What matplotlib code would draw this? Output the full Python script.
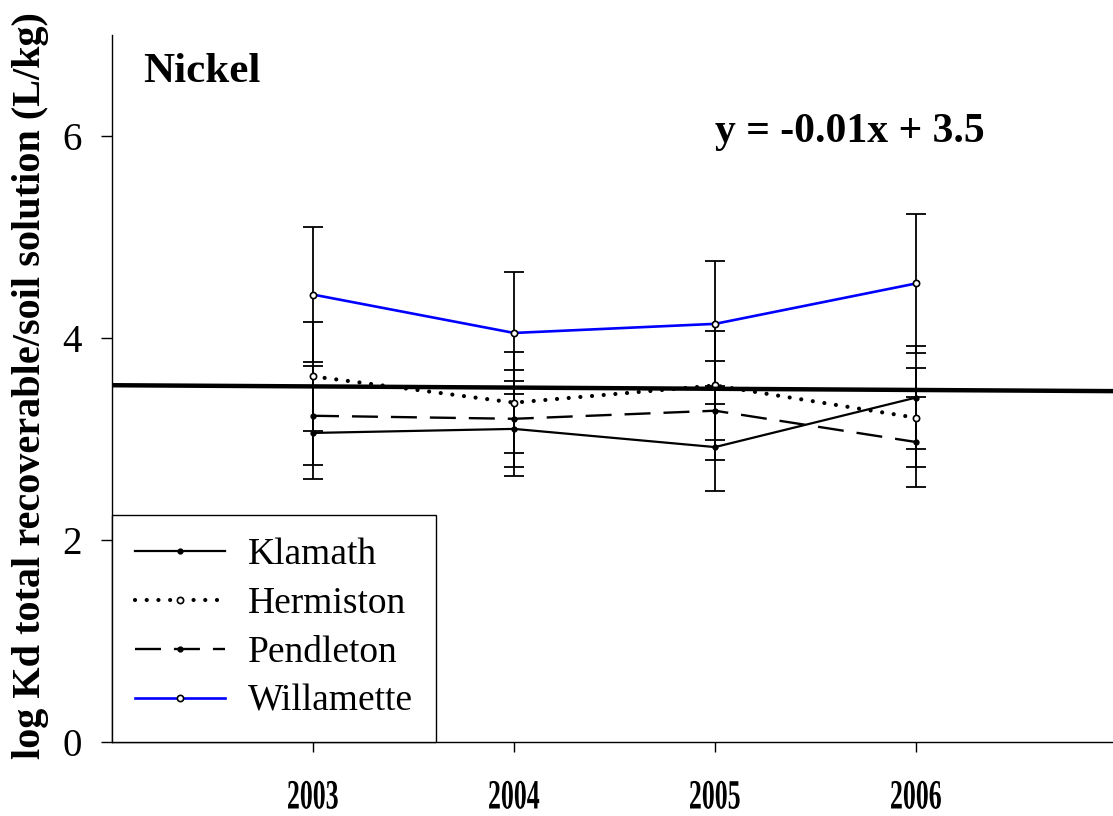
import numpy as np
import matplotlib
matplotlib.use("Agg")
import matplotlib.pyplot as plt
from matplotlib.patheffects import AbstractPathEffect
from matplotlib.transforms import Affine2D

# ---- data -------------------------------------------------------------
years = [2003, 2004, 2005, 2006]
sites = ["Klamath", "Hermiston", "Pendleton", "Willamette"]

klamath = [3.06, 3.10, 2.92, 3.41]
klamath_err = [0.46, 0.47, 0.43, 0.51]
hermiston = [3.62, 3.36, 3.53, 3.21]
hermiston_err = [0.54, 0.50, 0.54, 0.49]
pendleton = [3.23, 3.20, 3.28, 2.97]
pendleton_err = [0.49, 0.48, 0.49, 0.45]
willamette = [4.43, 4.05, 4.14, 4.54]
willamette_err = [0.67, 0.60, 0.62, 0.69]

yticks = [0, 2, 4, 6]
metal = "Nickel"
ylabel = "log Kd total recoverable/soil solution (L/kg)"
base_year = 2002


class Condensed(AbstractPathEffect):
    """Draw text glyphs squeezed horizontally about their centre."""

    def __init__(self, factor):
        super().__init__()
        self.factor = factor

    def draw_path(self, renderer, gc, tpath, affine, rgbFace=None):
        v = tpath.vertices
        cx = 0.5 * (v[:, 0].min() + v[:, 0].max()) if len(v) else 0.0
        squeeze = Affine2D().translate(-cx, 0).scale(self.factor, 1).translate(cx, 0)
        renderer.draw_path(gc, tpath, squeeze + affine, rgbFace)


plt.rcParams["font.family"] = ["Liberation Serif", "DejaVu Serif"]

W, H = 1113, 816
fig = plt.figure(figsize=(W / 100, H / 100), dpi=100)
ax = fig.add_axes([112 / W, 74 / H, 1001 / W, 707 / H])

series = [klamath, hermiston, pendleton, willamette]
errors = [klamath_err, hermiston_err, pendleton_err, willamette_err]
styles = [
    dict(color="black", ls="-", lw=1.6, marker="o", ms=3.5, mfc="black", mec="black"),
    dict(color="black", ls=(0, (0.01, 2.8)), lw=3.0, dash_capstyle="round",
         marker="o", ms=4.5, mfc="white", mec="black", mew=1.2),
    dict(color="black", ls=(0, (11, 5.5)), lw=1.7, marker="o", ms=3.5,
         mfc="black", mec="black"),
    dict(color="#0000ff", ls="-", lw=1.9, marker="o", ms=4.5, mfc="white",
         mec="black", mew=1.2),
]

# error bars first, lines on top
for vals, err in zip(series, errors):
    ax.errorbar(years, vals, yerr=err, fmt="none", ecolor="black",
                elinewidth=1.3, capsize=7.5, capthick=1.3, zorder=2)

handles = []
for vals, name, st in zip(series, sites, styles):
    (ln,) = ax.plot(years, vals, label=name, zorder=3, **st)
    handles.append(ln)

# least-squares trend through all sites, x counted in years from base_year
idx = np.concatenate([np.array(years) - base_year] * len(series))
allv = np.concatenate(series)
slope, intercept = np.polyfit(idx, allv, 1)
xl = np.array([base_year, base_year + 5])
ax.plot(xl, slope * (xl - base_year) + intercept, color="black", lw=3.2,
        zorder=4, solid_capstyle="butt")

ax.set_xlim(2002, 2006.98)
ax.set_ylim(0, 7)
ax.set_xticks(years)
ax.set_xticklabels([str(y) for y in years])
ax.set_yticks(yticks)
ax.set_yticklabels([str(t) for t in yticks])

for side in ("top", "right"):
    ax.spines[side].set_visible(False)
for side in ("left", "bottom"):
    ax.spines[side].set_linewidth(1.0)

ax.tick_params(axis="y", direction="out", length=8, width=1, pad=14,
               labelsize=28)
ax.tick_params(axis="x", direction="out", length=7, width=1, pad=20,
               labelsize=30)
for lab in ax.get_xticklabels():
    lab.set_fontweight("bold")
    lab.set_path_effects([Condensed(0.62)])

fig.text(31 / W, 1 - 386 / H, ylabel, rotation=90, ha="center", va="center",
         fontsize=29, fontweight="bold")

fig.text(143 / W, 1 - 82 / H, metal, ha="left", va="baseline",
         fontsize=31, fontweight="bold")

eq = f"y = {slope:.2f}x + {intercept:.1f}"
fig.text(715 / W, 1 - 142 / H, eq, ha="left", va="baseline",
         fontsize=30, fontweight="bold")

leg = ax.legend(handles=handles, loc="lower left", bbox_to_anchor=(0, 0),
                bbox_transform=ax.transAxes, borderaxespad=0, fontsize=27,
                handlelength=2.4, handletextpad=0.6, labelspacing=0.38,
                borderpad=0.62, fancybox=False, framealpha=1, numpoints=1)
leg.get_frame().set_edgecolor("black")
leg.get_frame().set_linewidth(1.0)
leg.set_zorder(5)

fig.savefig("out.png", dpi=100)
